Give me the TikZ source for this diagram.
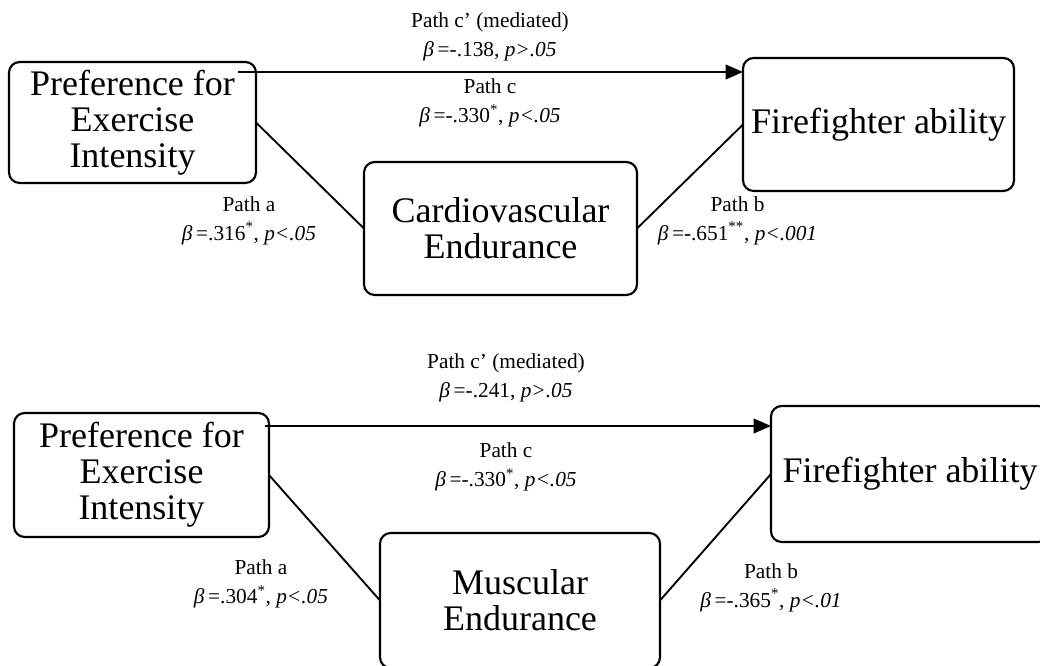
\documentclass[tikz,border=0pt]{standalone}
\usepackage{fontspec}
\setmainfont{Liberation Serif}
\usetikzlibrary{arrows.meta}

\begin{document}
\begin{tikzpicture}[x=0.75pt, y=-0.75pt, >={Triangle[length=13pt,width=11pt]},
    varbox/.style={draw, line width=1.6pt, rounded corners=8pt, align=center,
        inner sep=0pt, outer sep=0pt, font=\fontsize{27}{27}\selectfont},
    pathlbl/.style={align=center, font=\fontsize{16}{21.75}\selectfont},
    link/.style={line width=1.4pt}]
    \useasboundingbox (0,0) rectangle (1040,666);
    \clip (0,0) rectangle (1040,666);

    % Cardiovascular model
    \node[varbox, minimum width=185.25pt, minimum height=90.75pt] (pref1) at (132.5,122.5) {Preference for\\Exercise\\Intensity};
    \node[varbox, minimum width=203.25pt, minimum height=99.75pt] (fire1) at (878.5,124.5) {Firefighter ability};
    \node[varbox, minimum width=204.75pt, minimum height=99.75pt] (cardio) at (500.5,228.5) {Cardiovascular\\Endurance};

    \coordinate (cfrom1) at (238,72);
    \draw[link, ->] (cfrom1) -- (cfrom1 -| fire1.west);
    \draw[link] (pref1.east) -- (cardio.west);
    \draw[link] (cardio.east) -- (fire1.west);

    \node[pathlbl] (cpr1) at (490,36.5) {Path c’ (mediated)\\{\itshape β}\,=-.138, {\itshape p>.05}};
    \node[pathlbl] (ctot1) at (490,103) {Path c\\{\itshape β}\,=-.330\textsuperscript{*}, {\itshape p<.05}};
    \node[pathlbl] (pa1) at (249,220.5) {Path a\\{\itshape β}\,=.316\textsuperscript{*}, {\itshape p<.05}};
    \node[pathlbl] (pb1) at (737.5,220.5) {Path b\\{\itshape β}\,=-.651\textsuperscript{**}, {\itshape p<.001}};

    % Muscular model
    \node[varbox, minimum width=191.25pt, minimum height=93pt] (pref2) at (141.5,475) {Preference for\\Exercise\\Intensity};
    \node[varbox, minimum width=208.5pt, minimum height=102pt] (fire2) at (910,474) {Firefighter ability};
    \node[varbox, minimum width=210pt, minimum height=101.25pt] (muscle) at (520,600.5) {Muscular\\Endurance};

    \coordinate (cfrom2) at (265,426);
    \draw[link, ->] (cfrom2) -- (cfrom2 -| fire2.west);
    \draw[link] (pref2.east) -- (muscle.west);
    \draw[link] (muscle.east) -- (fire2.west);

    \node[pathlbl] (cpr2) at (506,377.5) {Path c’ (mediated)\\{\itshape β}\,=-.241, {\itshape p>.05}};
    \node[pathlbl] (ctot2) at (506,467) {Path c\\{\itshape β}\,=-.330\textsuperscript{*}, {\itshape p<.05}};
    \node[pathlbl] (pa2) at (261,584) {Path a\\{\itshape β}\,=.304\textsuperscript{*}, {\itshape p<.05}};
    \node[pathlbl] (pb2) at (771,587.5) {Path b\\{\itshape β}\,=-.365\textsuperscript{*}, {\itshape p<.01}};
\end{tikzpicture}
\end{document}
